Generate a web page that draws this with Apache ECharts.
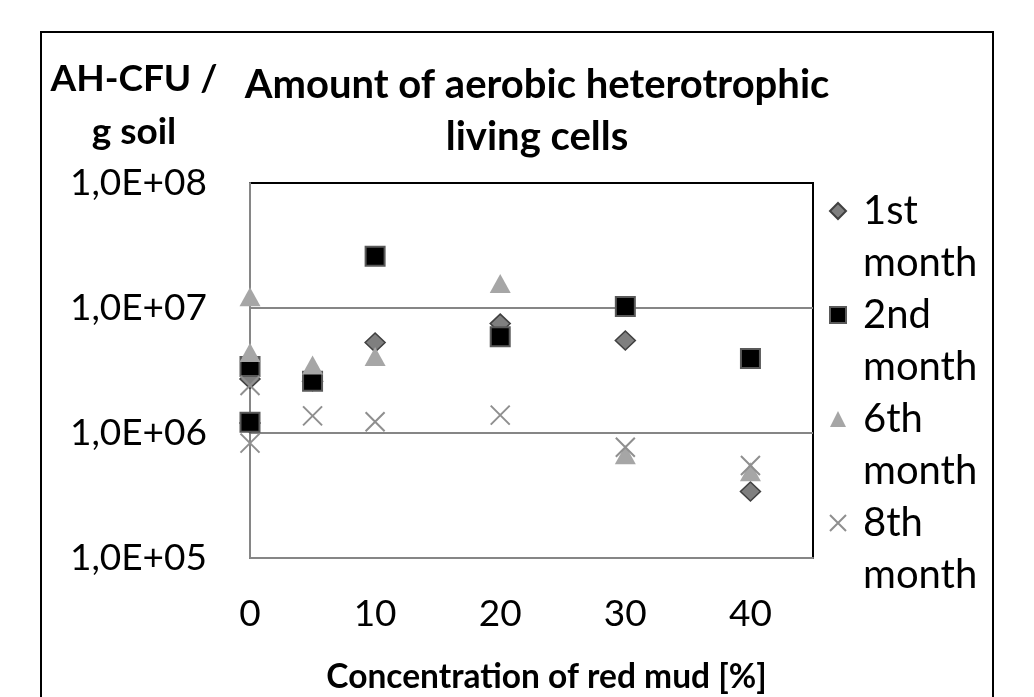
<!DOCTYPE html>
<html lang="en">
<head>
<meta charset="UTF-8">
<title>Amount of aerobic heterotrophic living cells</title>
<style>
    html, body { margin: 0; padding: 0; background: #fff; }
    #chart { width: 1034px; height: 697px; }
</style>
</head>
<body>
<div id="chart"></div>
<script src="https://cdn.jsdelivr.net/npm/echarts@6/dist/echarts.min.js"></script>
<script>
// concentration of red mud [%] for each sample (two samples at 0 %)
var conc = [0, 0, 5, 10, 20, 30, 40];

// AH-CFU / g soil, one list per sampling month
var month1 = [2.7e6, 1.2e6, 2.6e6, 5.3e6, 7.5e6, 5.5e6, 3.4e5];
var month2 = [3.4e6, 1.22e6, 2.6e6, 2.6e7, 5.9e6, 1.03e7, 3.95e6];
var month6 = [1.23e7, 4.4e6, 3.5e6, 4.1e6, 1.57e7, 6.7e5, 4.9e5];
var month8 = [2.4e6, 8.3e5, 1.37e6, 1.23e6, 1.39e6, 7.7e5, 5.5e5];

var seriesNames = ['1st\nmonth', '2nd\nmonth', '6th\nmonth', '8th\nmonth'];
var xTicks = [0, 10, 20, 30, 40];
var yTickLabels = ['1,0E+05', '1,0E+06', '1,0E+07', '1,0E+08'];

var FONT = 'Lato';

function pairs(ys) {
    return conc.map(function (x, i) { return [x, ys[i]]; });
}

var chart = echarts.init(document.getElementById('chart'));

var option = {
    backgroundColor: '#fff',
    animation: false,
    title: {
        text: 'Amount of aerobic heterotrophic\nliving cells',
        left: 537,
        top: 59,
        padding: 0,
        textAlign: 'center',
        textStyle: { fontFamily: FONT, fontWeight: 'bold', fontSize: 40, lineHeight: 52, color: '#000' }
    },
    legend: {
        orient: 'vertical',
        left: 829,
        top: 133,
        padding: 0,
        itemWidth: 16,
        itemHeight: 16,
        itemGap: -52,
        data: seriesNames,
        // empty first line so the marker sits level with the first text line
        formatter: function (name) { return '\n' + name; },
        textStyle: { fontFamily: FONT, fontSize: 40, lineHeight: 52, color: '#000', padding: [0, 0, 0, 12] }
    },
    grid: {
        left: 250, top: 183, width: 563, height: 375,
        show: true, borderColor: '#000', borderWidth: 2,
        outerBoundsMode: 'none'
    },
    graphic: [{
        // outer chart-area frame
        type: 'rect',
        silent: true,
        shape: { x: 41, y: 32, width: 952, height: 700 },
        style: { fill: 'none', stroke: '#000', lineWidth: 2 }
    }],
    xAxis: {
        type: 'value',
        min: 0,
        max: 45,
        interval: 10,
        name: 'Concentration of red mud [%]',
        nameLocation: 'middle',
        nameGap: 99,
        nameMoveOverlap: false,
        nameTextStyle: { fontFamily: FONT, fontWeight: 'bold', fontSize: 33.5, lineHeight: 40, color: '#000', padding: [0, 0, 0, 30] },
        axisLine: { show: true, onZero: false, lineStyle: { color: '#868686', width: 2 } },
        axisTick: { show: false },
        splitLine: { show: false },
        axisLabel: {
            fontFamily: FONT, fontSize: 37, color: '#000', margin: 38,
            formatter: function (v) { return xTicks.indexOf(v) >= 0 ? String(v) : ''; }
        }
    },
    yAxis: {
        type: 'log',
        logBase: 10,
        min: 1e5,
        max: 1e8,
        name: 'AH-CFU /\ng soil',
        nameLocation: 'end',
        nameGap: 24,
        nameMoveOverlap: false,
        nameTextStyle: { fontFamily: FONT, fontWeight: 'bold', fontSize: 37, lineHeight: 53, color: '#000', align: 'center', padding: [0, 232, 0, 0] },
        axisLine: { show: true, lineStyle: { color: '#868686', width: 2 } },
        axisTick: { show: false },
        splitLine: { show: true, showMinLine: false, showMaxLine: false, lineStyle: { color: '#868686', width: 2 } },
        axisLabel: {
            fontFamily: FONT, fontSize: 37, color: '#000', margin: 43,
            formatter: function (v) { return yTickLabels[Math.round(Math.log10(v)) - 5]; }
        }
    },
    series: [{
        name: seriesNames[0],
        type: 'scatter',
        symbol: 'diamond',
        symbolSize: [20, 19],
        clip: false,
        itemStyle: { color: '#7f7f7f', borderColor: '#404040', borderWidth: 1.5, opacity: 1 },
        data: pairs(month1)
    }, {
        name: seriesNames[1],
        type: 'scatter',
        symbol: 'rect',
        symbolSize: 19,
        clip: false,
        itemStyle: { color: '#000', borderColor: '#595959', borderWidth: 2, opacity: 1 },
        data: pairs(month2)
    }, {
        name: seriesNames[2],
        type: 'scatter',
        symbol: 'triangle',
        symbolSize: [21, 19],
        clip: false,
        itemStyle: { color: '#a6a6a6', opacity: 1 },
        data: pairs(month6)
    }, {
        name: seriesNames[3],
        type: 'scatter',
        symbol: 'path://M0,0L10,10M10,0L0,10',
        symbolSize: 19,
        clip: false,
        itemStyle: { color: '#8f8f8f', borderColor: '#8f8f8f', borderWidth: 2, opacity: 1 },
        data: pairs(month8)
    }]
};

chart.setOption(option);
</script>
</body>
</html>
